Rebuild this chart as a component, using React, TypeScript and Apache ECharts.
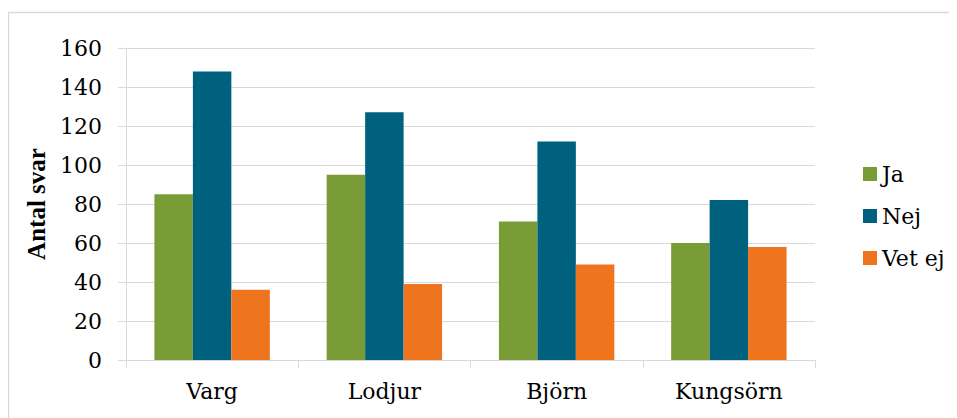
import React, { useEffect, useRef } from "react";
import * as echarts from "echarts";

const categories = ["Varg", "Lodjur", "Björn", "Kungsörn"];
const seriesNames = ["Ja", "Nej", "Vet ej"];
const jaValues = [85, 95, 71, 60];
const nejValues = [148, 127, 112, 82];
const vetEjValues = [36, 39, 49, 58];
const seriesColors = ["#799c36", "#00617f", "#ee741d"];
const yAxisTitle = "Antal svar";

const TITLE_FONT = "Liberation Serif";
const LABEL_FONT = "DejaVu Serif";

export default function App() {
  const ref = useRef<HTMLDivElement>(null);
  useEffect(() => {
    if (!ref.current) return;
    const chart = echarts.init(ref.current, null, { renderer: "svg" });
    const values = [jaValues, nejValues, vetEjValues];
    chart.setOption({
      animation: false,
      backgroundColor: "#ffffff",
      graphic: [
        {
          type: "rect",
          shape: { x: 0.5, y: 4.5, width: 1000, height: 500 },
          style: { fill: "none", stroke: "#d9d9d9", lineWidth: 1.5 },
          silent: true,
        },
      ],
      grid: { left: 118, right: 142, top: 40, bottom: 58, containLabel: false },
      legend: {
        orient: "vertical",
        left: 850,
        top: 150,
        itemWidth: 14,
        itemHeight: 14,
        itemGap: 20,
        icon: "rect",
        data: seriesNames,
        textStyle: { fontFamily: LABEL_FONT, fontSize: 22, color: "#000" },
      },
      xAxis: {
        type: "category",
        data: categories,
        axisLine: { show: true, lineStyle: { color: "#d9d9d9", width: 1 } },
        axisTick: { show: true, length: 8, alignWithLabel: false, lineStyle: { color: "#d9d9d9" } },
        axisLabel: { fontFamily: LABEL_FONT, fontSize: 22, color: "#000", margin: 20, interval: 0 },
      },
      yAxis: {
        type: "value",
        min: 0,
        max: 160,
        interval: 20,
        name: yAxisTitle,
        nameLocation: "middle",
        nameRotate: 90,
        nameGap: 73,
        nameTextStyle: { fontFamily: TITLE_FONT, fontSize: 25, fontWeight: "bold", color: "#000" },
        axisLine: { show: true, lineStyle: { color: "#d9d9d9", width: 1 } },
        axisTick: { show: true, length: 8, inside: false, lineStyle: { color: "#d9d9d9" } },
        axisLabel: { fontFamily: LABEL_FONT, fontSize: 22, color: "#000", margin: 24 },
        splitLine: { show: true, lineStyle: { color: "#d9d9d9", width: 1 } },
      },
      series: seriesNames.map((name, i) => ({
        name,
        type: "bar",
        data: values[i],
        barGap: "0%",
        barCategoryGap: "33%",
        itemStyle: { color: seriesColors[i] },
      })),
    });
    return () => chart.dispose();
  }, []);
  return <div ref={ref} style={{ width: 949, height: 410 }} />;
}
